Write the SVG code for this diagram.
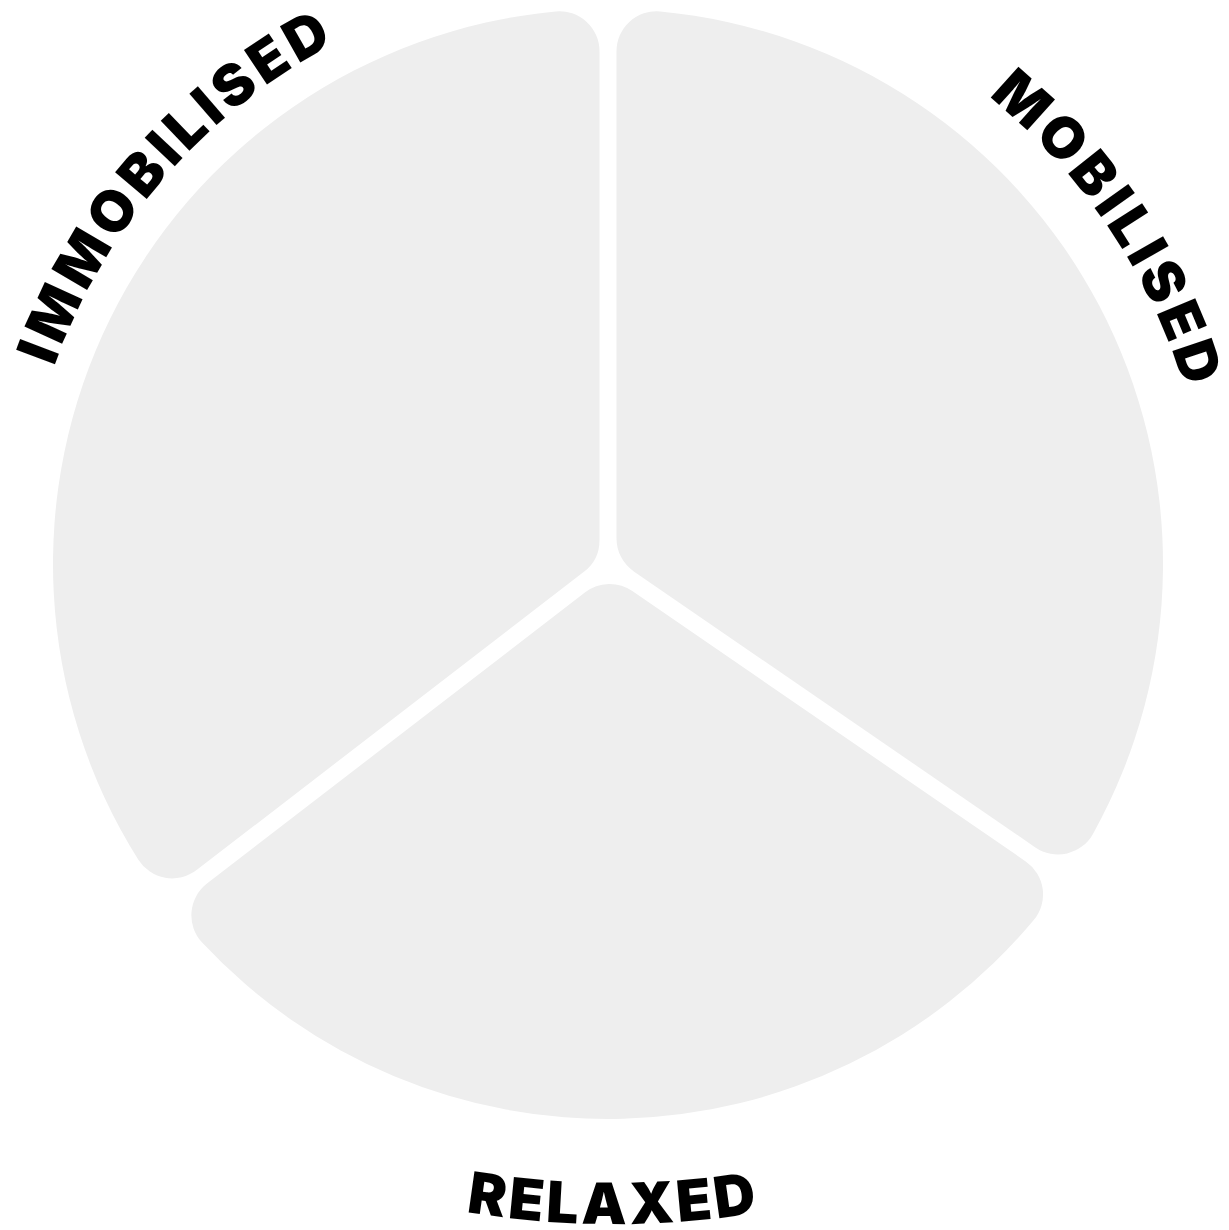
<svg xmlns="http://www.w3.org/2000/svg" width="1229" height="1230" viewBox="0 0 1229 1230">
  <style>
    .sector { fill: #eeeeee; stroke: none; }
    .label { font-family: Inter, "DejaVu Sans", sans-serif; font-weight: 900; font-size: 57px; fill: #000000; letter-spacing: 3.5px; }
    .wide { letter-spacing: 5px; }
  </style>
  <defs>
    <path id="arc-immobilised" d="M 27.0,654.5 A 588 588 0 0 1 619.8,-23.9"/>
    <path id="arc-mobilised" d="M 673.9,-35.3 A 603 603 0 0 1 1186.8,733.2"/>
    <path id="arc-relaxed" d="M 233.1,1139.7 A 900 900 0 0 0 993.9,1139.7"/>
  </defs>
  <rect width="1229" height="1230" fill="#ffffff"/>
  <g id="node-immobilised">
    <path class="sector" d="M 583.91,571.83 L 196.59,870.10 A 40 40 0 0 1 138.34,859.72 A 555 555 0 0 1 555.73,11.47 A 40 40 0 0 1 599.5,51.29 L 599.5,540.14 A 40 40 0 0 1 583.91,571.83 Z"/>
    <text class="label wide"><textPath href="#arc-immobilised" startOffset="50%" text-anchor="middle">IMMOBILISED</textPath></text>
  </g>
  <g id="node-mobilised">
    <path class="sector" d="M 616.5,538.51 L 616.5,51.29 A 40 40 0 0 1 660.27,11.47 A 555 555 0 0 1 1092.97,833.88 A 40 40 0 0 1 1035.35,847.40 L 633.82,571.43 A 40 40 0 0 1 616.5,538.51 Z"/>
    <text class="label wide"><textPath href="#arc-mobilised" startOffset="50%" text-anchor="middle">MOBILISED</textPath></text>
  </g>
  <g id="node-relaxed">
    <path class="sector" d="M 632.30,591.02 L 1025.73,861.42 A 40 40 0 0 1 1033.75,920.04 A 555 555 0 0 1 202.12,942.54 A 40 40 0 0 1 206.97,883.56 L 585.19,592.29 A 40 40 0 0 1 632.30,591.02 Z"/>
    <text class="label"><textPath href="#arc-relaxed" startOffset="50%" text-anchor="middle">RELAXED</textPath></text>
  </g>
  <g id="connectors"/>
</svg>
